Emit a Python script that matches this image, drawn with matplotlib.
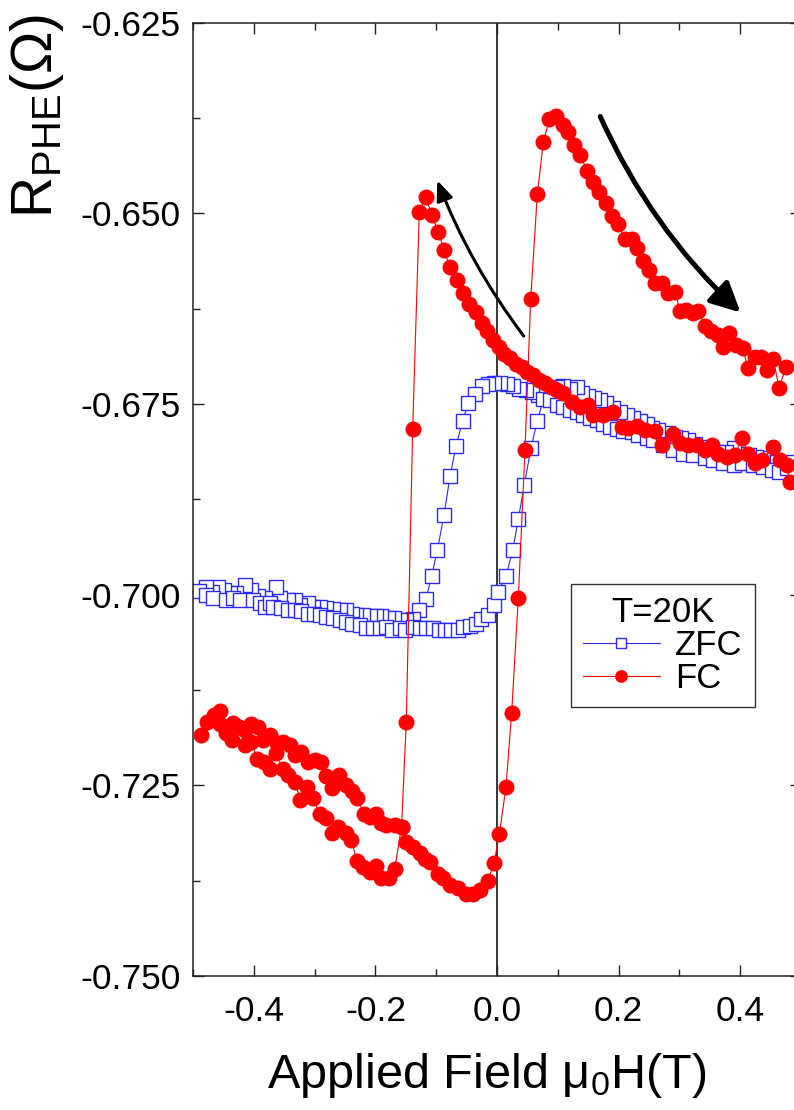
import matplotlib
matplotlib.use("Agg")
import matplotlib.pyplot as plt
from matplotlib.ticker import MultipleLocator, FormatStrFormatter

# --- FC data: sweep down from +0.5 to the left peak ---
fc_down_h = [0.482, 0.4765, 0.4655, 0.4535, 0.4354, 0.4243, 0.4133, 0.4025, 0.3914, 0.3778,
             0.364, 0.3531, 0.3421, 0.3285, 0.3146, 0.301, 0.290, 0.2709, 0.2599, 0.2434,
             0.2298, 0.216, 0.2051, 0.190, 0.175, 0.158, 0.150, 0.1365, 0.1229, 0.108,
             0.098, 0.0883, 0.079, 0.0696, 0.0597, 0.0498, 0.0406, 0.0313, 0.0214, 0.0115,
             0.0038, -0.0061, -0.016, -0.0252, -0.035, -0.0456, -0.0564, -0.0663, -0.0773, -0.0872,
             -0.0965, -0.1074, -0.1168, -0.1278]
fc_down_r = [-0.6852, -0.6830, -0.6824, -0.6807, -0.6824, -0.6828, -0.6815, -0.6795, -0.6817, -0.6819,
             -0.6815, -0.6804, -0.6810, -0.6804, -0.6804, -0.6801, -0.6789, -0.6804, -0.6786, -0.6784,
             -0.6779, -0.6782, -0.6780, -0.6761, -0.6765, -0.6765, -0.6751, -0.6754, -0.6747, -0.6736,
             -0.6732, -0.6728, -0.6723, -0.6719, -0.6712, -0.6708, -0.6701, -0.6697, -0.6690, -0.6684,
             -0.6675, -0.6666, -0.6654, -0.6644, -0.6630, -0.6619, -0.6604, -0.6588, -0.6571, -0.6548,
             -0.6524, -0.6502, -0.6479, -0.6498]

# switching jump and lower band down to -0.5
fc_neg_h = [-0.1387, -0.1492, -0.157, -0.1683, -0.1776, -0.1903, -0.1995, -0.2094, -0.2204, -0.2303,
            -0.2396, -0.2488, -0.2615, -0.2709, -0.2808, -0.2916, -0.3026, -0.3125, -0.3235, -0.3327,
            -0.3438, -0.352, -0.364, -0.3738, -0.3838, -0.3947, -0.404, -0.415, -0.426, -0.4354,
            -0.4452, -0.455, -0.466, -0.477, -0.4863]
fc_neg_r = [-0.6783, -0.7167, -0.7304, -0.7360, -0.7372, -0.7372, -0.7356, -0.7363, -0.7357, -0.7349,
            -0.7322, -0.7313, -0.7305, -0.7312, -0.7293, -0.7287, -0.7267, -0.7252, -0.7269, -0.7245,
            -0.7237, -0.7228, -0.7208, -0.7228, -0.7219, -0.7215, -0.7193, -0.7197, -0.7173, -0.7190,
            -0.7182, -0.7152, -0.7160, -0.7167, -0.7184]

# sweep up from -0.5 through the minimum to the right peak
fc_up_h = [-0.466, -0.455, -0.445, -0.435, -0.424, -0.415, -0.404, -0.393, -0.385, -0.373,
           -0.362, -0.352, -0.341, -0.332, -0.323, -0.311, -0.300, -0.289, -0.281, -0.272,
           -0.260, -0.248, -0.238, -0.230, -0.219, -0.209, -0.1995, -0.190, -0.182, -0.168,
           -0.157, -0.149, -0.138, -0.127, -0.119, -0.110, -0.097, -0.088, -0.078, -0.064,
           -0.0505, -0.040, -0.0275, -0.015, -0.0049, 0.0039, 0.0148, 0.0241, 0.035, 0.0461,
           0.0554, 0.0663, 0.0762, 0.086, 0.097]
fc_up_r = [-0.7158, -0.7170, -0.7175, -0.7168, -0.7173, -0.7178, -0.7169, -0.7173, -0.7190, -0.7184,
           -0.7195, -0.7193, -0.7197, -0.7210, -0.7206, -0.7219, -0.7217, -0.7220, -0.7238, -0.7254,
           -0.7237, -0.7250, -0.7258, -0.7267, -0.7287, -0.7291, -0.7287, -0.7300, -0.7302, -0.7302,
           -0.7304, -0.7324, -0.7331, -0.7339, -0.7346, -0.7350, -0.7366, -0.7372, -0.7381, -0.7384,
           -0.7392, -0.7392, -0.7387, -0.7375, -0.7352, -0.7314, -0.7252, -0.7155, -0.7005, -0.6810,
           -0.6613, -0.6475, -0.6407, -0.6377, -0.6373]

# upper right branch back to +0.5
fc_pos_h = [0.108, 0.117, 0.127, 0.137, 0.1485, 0.158, 0.168, 0.179, 0.189, 0.199,
            0.2105, 0.2215, 0.230, 0.240, 0.250, 0.260, 0.271, 0.282, 0.293, 0.301,
            0.311, 0.322, 0.331, 0.342, 0.352, 0.363, 0.372, 0.382, 0.393, 0.404,
            0.413, 0.424, 0.435, 0.4436, 0.4544, 0.464, 0.475]
fc_pos_r = [-0.6384, -0.6394, -0.6410, -0.6424, -0.6445, -0.6459, -0.6472, -0.6487, -0.6504, -0.6514,
            -0.6534, -0.6534, -0.6546, -0.6562, -0.6574, -0.6591, -0.6591, -0.6604, -0.6603, -0.6628,
            -0.6627, -0.6631, -0.6628, -0.6648, -0.6654, -0.6660, -0.6675, -0.6657, -0.6673, -0.6677,
            -0.6703, -0.6688, -0.6688, -0.6705, -0.6691, -0.6729, -0.6702]

# --- ZFC data ---
zfc_down_h = [0.487, 0.476, 0.462, 0.448, 0.437, 0.426, 0.415, 0.404, 0.390, 0.377,
              0.363, 0.352, 0.338, 0.325, 0.314, 0.303, 0.292, 0.281, 0.264, 0.255,
              0.246, 0.235, 0.224, 0.213, 0.202, 0.191, 0.180, 0.170, 0.160, 0.150,
              0.140, 0.131, 0.120, 0.109, 0.099, 0.089, 0.078, 0.068, 0.057, 0.048,
              0.037, 0.027, 0.016, 0.0049, -0.0044, -0.0143, -0.0252, -0.0362, -0.0472, -0.0564,
              -0.0674, -0.0773, -0.0872, -0.0982, -0.1074, -0.1168, -0.1278, -0.1387]
zfc_down_r = [-0.6826, -0.6832, -0.6832, -0.6826, -0.6821, -0.6819, -0.6817, -0.6815, -0.6808, -0.6813,
              -0.6813, -0.6810, -0.6806, -0.6802, -0.6797, -0.6795, -0.6793, -0.6788, -0.6784, -0.6781,
              -0.6776, -0.6772, -0.6769, -0.6764, -0.6760, -0.6755, -0.6749, -0.6745, -0.6742, -0.6739,
              -0.6735, -0.6728, -0.6730, -0.6727, -0.6728, -0.6731, -0.6735, -0.6738, -0.6734, -0.6732,
              -0.6730, -0.6726, -0.6724, -0.6723, -0.6723, -0.6724, -0.6726, -0.6737, -0.6749, -0.6772,
              -0.6805, -0.6845, -0.6896, -0.6942, -0.6975, -0.7006, -0.7020, -0.7032]

zfc_neg_h = [-0.149, -0.160, -0.170, -0.1793, -0.1903, -0.1995, -0.2094, -0.2204, -0.2314, -0.238,
             -0.2488, -0.2587, -0.2697, -0.2817, -0.2916, -0.3026, -0.3109, -0.3245, -0.3327, -0.3438,
             -0.3564, -0.363, -0.382, -0.393, -0.404, -0.415, -0.4288, -0.4396, -0.4495, -0.459,
             -0.468, -0.478, -0.490]
zfc_neg_r = [-0.7033, -0.7033, -0.7030, -0.7031, -0.7028, -0.7028, -0.7028, -0.7027, -0.7027, -0.7025,
             -0.7020, -0.7020, -0.7019, -0.7018, -0.7016, -0.7016, -0.7011, -0.7014, -0.7007, -0.7007,
             -0.7005, -0.6990, -0.7005, -0.7002, -0.6994, -0.6987, -0.6998, -0.6998, -0.6994, -0.6990,
             -0.6996, -0.6990, -0.6995]

zfc_up_h = [-0.478, -0.467, -0.4452, -0.434, -0.423, -0.401, -0.390, -0.382, -0.374, -0.3684,
            -0.3548, -0.3438, -0.3327, -0.322, -0.3109, -0.3015, -0.2916, -0.2807, -0.2697, -0.2587,
            -0.2479, -0.238, -0.2258, -0.215, -0.204, -0.193, -0.182, -0.172, -0.160, -0.1518,
            -0.138, -0.127, -0.1163, -0.105, -0.0954, -0.086, -0.075, -0.064, -0.056, -0.045,
            -0.034, -0.0258, -0.0148, -0.0054, 0.0016, 0.0148, 0.0258, 0.035, 0.0449, 0.0559,
            0.0663, 0.0762]
zfc_up_r = [-0.7001, -0.7004, -0.7007, -0.7005, -0.7007, -0.7007, -0.7011, -0.7016, -0.7011, -0.7016,
            -0.7018, -0.7020, -0.7020, -0.7022, -0.7025, -0.7025, -0.7027, -0.7029, -0.7031, -0.7033,
            -0.7036, -0.7039, -0.7040, -0.7044, -0.7044, -0.7044, -0.7042, -0.7046, -0.7044, -0.7046,
            -0.7042, -0.7044, -0.7044, -0.7044, -0.7046, -0.7046, -0.7047, -0.7046, -0.7042, -0.7041,
            -0.7038, -0.7032, -0.7027, -0.7014, -0.6996, -0.6975, -0.6942, -0.6901, -0.6856, -0.6808,
            -0.6772, -0.6744]

zfc_pos_h = [0.087, 0.098, 0.109, 0.120, 0.131, 0.142, 0.153, 0.164, 0.175, 0.186,
             0.197, 0.208, 0.2215, 0.232, 0.246, 0.257, 0.2736, 0.290, 0.3065, 0.323,
             0.342, 0.356, 0.372, 0.389, 0.4025, 0.4216, 0.438, 0.452, 0.463, 0.4765, 0.490]
zfc_pos_r = [-0.6745, -0.6751, -0.6754, -0.6758, -0.6760, -0.6764, -0.6769, -0.6771, -0.6776, -0.6780,
             -0.6783, -0.6785, -0.6787, -0.6791, -0.6795, -0.6797, -0.6804, -0.6810, -0.6815, -0.6817,
             -0.6821, -0.6824, -0.6828, -0.6830, -0.6828, -0.6830, -0.6832, -0.6837, -0.6839, -0.6834, -0.6838]

x_ticks = [-0.4, -0.2, 0.0, 0.2, 0.4]
y_ticks = [-0.750, -0.725, -0.700, -0.675, -0.650, -0.625]

fc_h = fc_down_h + fc_neg_h + fc_up_h + fc_pos_h
fc_r = fc_down_r + fc_neg_r + fc_up_r + fc_pos_r
zfc_h = zfc_down_h + zfc_neg_h + zfc_up_h + zfc_pos_h
zfc_r = zfc_down_r + zfc_neg_r + zfc_up_r + zfc_pos_r

plt.rcParams['font.family'] = ['Liberation Sans', 'DejaVu Sans']
plt.rcParams['axes.unicode_minus'] = False
plt.rcParams['mathtext.fontset'] = 'custom'
plt.rcParams['mathtext.rm'] = 'Liberation Sans'
plt.rcParams['mathtext.it'] = 'Liberation Sans:italic'
plt.rcParams['mathtext.sf'] = 'Liberation Sans'

W, H = 794, 1110
fig = plt.figure(figsize=(W / 100, H / 100), dpi=100)
# right spine lies just outside the canvas, as in the original crop
ax = fig.add_axes([193 / W, 1 - 976 / H, 608 / W, (976 - 22.6) / H])

ax.axvline(0, color='black', lw=1.1, zorder=1)

ax.plot(zfc_h, zfc_r, color='#2a2aff', lw=0.8, marker='s', ms=9.5,
        mfc='white', mec='#2a2aff', mew=1.0, label='ZFC', zorder=2)
ax.plot(fc_h, fc_r, color='#ff0000', lw=0.8, marker='o', ms=11.5,
        mfc='#ff0000', mec='#ff0000', mew=0, label='FC', zorder=3)

ax.set_xlim(-0.5, 0.5)
ax.set_ylim(-0.750, -0.625)
ax.set_xticks(x_ticks)
ax.set_yticks(y_ticks)
ax.xaxis.set_minor_locator(MultipleLocator(0.1))
ax.yaxis.set_minor_locator(MultipleLocator(0.0125))
ax.xaxis.set_major_formatter(FormatStrFormatter('%.1f'))
ax.yaxis.set_major_formatter(FormatStrFormatter('%.3f'))
ax.tick_params(which='both', direction='in', top=True, right=True, width=1.0, color='#222222')
ax.tick_params(which='major', length=8, labelsize=25.5)
ax.tick_params(axis='y', which='major', pad=9)
ax.tick_params(axis='x', which='major', pad=14)
ax.tick_params(which='minor', length=5)
for sp in ax.spines.values():
    sp.set_linewidth(1.1)
    sp.set_color('#222222')

# sweep direction arrows
ax.annotate('', xy=(-0.0982, -0.6457), xytext=(0.044, -0.6661),
            arrowprops=dict(arrowstyle='-|>,head_length=0.6,head_width=0.25',
                            connectionstyle='arc3,rad=-0.07', lw=2.2, color='black',
                            mutation_scale=20, shrinkA=0, shrinkB=0), zorder=5)
ax.annotate('', xy=(0.4005, -0.6630), xytext=(0.1697, -0.6373),
            arrowprops=dict(arrowstyle='-|>,head_length=0.6,head_width=0.3',
                            connectionstyle='arc3,rad=0.1', lw=3.6, color='black',
                            mutation_scale=30, shrinkA=0, shrinkB=0), zorder=5)

leg = ax.legend(loc='upper left', bbox_to_anchor=(571 / W, 1 - 584 / H),
                bbox_transform=fig.transFigure, title='T=20K', fontsize=25,
                title_fontsize=25, frameon=True, fancybox=False, borderaxespad=0,
                handlelength=2.2, handletextpad=0.45, labelspacing=0.0,
                borderpad=0.35, numpoints=1, markerscale=0.8)
leg.get_frame().set_edgecolor('black')
leg.get_frame().set_linewidth(1.0)

fig.text(37 / W, 1 - 116 / H, 'R$_{\\mathsf{PHE}}$(\u03a9)', rotation=90,
         ha='center', va='center', fontsize=41)
fig.text(487 / W, 1 - 1088 / H, 'Applied Field \u03bc$_{0}$H(T)',
         ha='center', va='baseline', fontsize=35)

fig.savefig('out.png', dpi=100)
